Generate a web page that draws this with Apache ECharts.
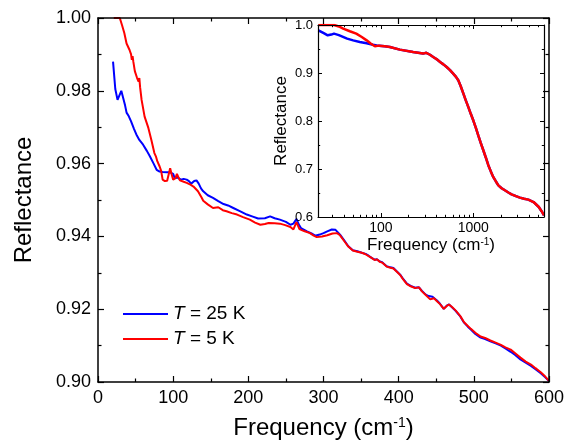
<!DOCTYPE html>
<html><head><meta charset="utf-8">
<script src="https://cdn.jsdelivr.net/npm/echarts@6/dist/echarts.min.js"></script>
<style>html,body{margin:0;padding:0;background:#fff}#c{width:585px;height:445px}</style>
</head><body><div id="c"></div>
<script>
// ---------- Main panel data (frequency in cm^-1, reflectance) ----------
var seriesNames = ['T = 25 K', 'T = 5 K'];
var freq25 = [20,23,26,28,31,33,36,38,41,44,48,51,55,60,65,69,74,78,82,86,92,96,100,102,106,110,114,118,121,124,128,131,134,137,140,146,153,160,167,173,180,188,198,205,213,222,229,235,242,250,256,260,264,267,270,278,284,289,295,300,305,311,316,322,328,333,339,345,351,356,360,364,368,371,375,378,384,389,393,398,402,406,411,416,422,427,431,436,440,445,451,455,460,464,467,471,476,482,487,492,496,502,509,515,522,529,536,542,549,555,562,569,576,582,589,595,600];
var refl25 = [0.988,0.9805,0.9775,0.978,0.980,0.9795,0.976,0.974,0.973,0.9716,0.9695,0.968,0.9665,0.9652,0.9635,0.962,0.960,0.9583,0.9578,0.9577,0.9576,0.9576,0.9572,0.956,0.9562,0.9556,0.9558,0.9556,0.9552,0.9545,0.9552,0.9554,0.9545,0.9532,0.9524,0.9513,0.9506,0.9497,0.9489,0.9485,0.9478,0.947,0.946,0.9455,0.9449,0.945,0.9455,0.945,0.9446,0.944,0.9432,0.9435,0.9448,0.9433,0.9423,0.9414,0.9408,0.9402,0.9405,0.9409,0.9414,0.9419,0.9418,0.9405,0.9388,0.9373,0.9362,0.9359,0.9355,0.9352,0.9347,0.9341,0.9336,0.9337,0.9331,0.9329,0.9318,0.9315,0.9313,0.9303,0.9295,0.9283,0.927,0.9264,0.9259,0.926,0.925,0.924,0.9236,0.9234,0.9224,0.9215,0.9201,0.921,0.9213,0.9205,0.9195,0.918,0.9163,0.9152,0.9144,0.9132,0.9122,0.9118,0.9112,0.9106,0.91,0.9092,0.9083,0.9074,0.9062,0.9053,0.9044,0.9035,0.9024,0.9013,0.9003];
var freq5 = [21,25,29,32,35,38,42,44,45,46,47,49,52,54,55,56,58,62,67,71,75,77,79,82,84,86,89,92,94,96,98,100,103,105,107,109,114,118,123,127,133,138,140,146,153,160,166,171,178,185,193,202,209,216,222,227,235,242,249,256,260,264,268,275,282,287,291,298,305,312,318,322,328,333,339,345,351,356,360,364,368,371,375,378,384,389,393,398,402,406,411,416,422,427,431,436,442,447,451,455,460,464,467,471,476,482,487,492,496,502,509,515,522,529,536,542,549,555,562,569,576,582,589,595,600];
var refl5 = [1.0,1.0,1.0,0.998,0.9959,0.993,0.9912,0.990,0.9885,0.9895,0.988,0.9854,0.9835,0.9825,0.9835,0.981,0.9775,0.9729,0.9698,0.9665,0.9629,0.962,0.9606,0.9592,0.958,0.9556,0.9552,0.9553,0.957,0.9587,0.957,0.9556,0.956,0.9572,0.9562,0.9554,0.955,0.9547,0.9542,0.9537,0.9524,0.9506,0.9498,0.9488,0.9478,0.948,0.9472,0.9469,0.9464,0.946,0.9453,0.9446,0.9438,0.9432,0.9434,0.9437,0.9436,0.9435,0.9431,0.9426,0.9419,0.9439,0.942,0.9414,0.9409,0.9402,0.9398,0.94,0.9403,0.9408,0.9409,0.9403,0.9386,0.9372,0.9361,0.9358,0.9355,0.9351,0.9346,0.9341,0.9335,0.9337,0.933,0.9328,0.9317,0.9314,0.9312,0.9302,0.9294,0.9282,0.9269,0.9263,0.9258,0.926,0.9249,0.9239,0.9227,0.923,0.9222,0.9214,0.9201,0.9209,0.9213,0.9206,0.9196,0.9181,0.9164,0.9154,0.9146,0.9135,0.9125,0.9121,0.9114,0.9108,0.9102,0.9095,0.9089,0.9079,0.9067,0.9056,0.9048,0.9038,0.9027,0.9015,0.9003];

// ---------- Inset data (log frequency axis) ----------
var insetFreq25 = [21,24,26.5,29,31,35,43,50,59,70,82,90,110,125,160,223,286,310,340,368,400,437,475,515,560,606,650,688,730,782,830,885,940,1000,1065,1133,1205,1285,1370,1456,1550,1650,1760,1870,2030,2200,2400,2600,2900,3200,3550,3950,4500,5130,5500,5840];
var insetRefl25 = [0.989,0.983,0.9785,0.980,0.982,0.979,0.9717,0.968,0.9646,0.962,0.959,0.9575,0.9556,0.9542,0.9487,0.9437,0.9404,0.942,0.938,0.9333,0.929,0.923,0.918,0.9125,0.906,0.8987,0.892,0.8848,0.873,0.857,0.843,0.829,0.815,0.8015,0.786,0.770,0.7545,0.739,0.7235,0.708,0.695,0.683,0.674,0.666,0.660,0.6556,0.651,0.6473,0.6435,0.6404,0.638,0.6362,0.6312,0.6208,0.612,0.6035];
var insetFreq5 = [21,26,31,35,39,46,54,62,70,78,86,95,110,125,160,223,286,310,340,368,400,437,475,515,560,606,650,688,730,782,830,885,940,1000,1065,1133,1205,1285,1370,1456,1550,1650,1760,1870,2030,2200,2400,2600,2900,3200,3550,3950,4500,5130,5500,5840];
var insetRefl5 = [1.0,1.0,1.0,0.997,0.9924,0.987,0.982,0.975,0.968,0.961,0.9556,0.957,0.9556,0.9542,0.9487,0.9437,0.9404,0.942,0.938,0.9333,0.929,0.923,0.918,0.9125,0.906,0.8987,0.892,0.8848,0.873,0.857,0.843,0.829,0.815,0.8015,0.786,0.770,0.7545,0.739,0.7235,0.708,0.695,0.683,0.674,0.666,0.660,0.6556,0.651,0.6473,0.6435,0.6404,0.638,0.6362,0.6312,0.6208,0.612,0.6035];

// ---------- Tick definitions ----------
var insetMajorTicks = [100, 1000];
var insetMinorTicks = [30,40,50,60,70,80,90,200,300,400,500,600,700,800,900,2000,3000,4000,5000];

function pairs(xs, ys){ return xs.map(function(x,i){ return [x, ys[i]]; }); }

var FONT = 'Liberation Sans, Arial, sans-serif';
var BLUE = '#0000ff', RED = '#ff0000';

var mainX = {min:0, max:600, interval:100};
var mainY = {min:0.90, max:1.00, interval:0.02};
var insetX = {min:20.8, max:5840};
var insetY = {min:0.6, max:1.0, interval:0.1};

function mainXAxis(pos, labels){
  return {type:'value', gridIndex:0, position:pos, min:mainX.min, max:mainX.max, interval:mainX.interval, z:10,
    axisLine:{show:true, onZero:false, lineStyle:{color:'#000', width:1.5}},
    axisTick:{show:true, inside:true, length:6, lineStyle:{color:'#000', width:1.2}},
    minorTick:{show:true, splitNumber:2, length:3.5, lineStyle:{color:'#000', width:1.2}},
    splitLine:{show:false},
    axisLabel:{show:labels, color:'#000', fontSize:18, fontFamily:FONT, margin:7},
    name: labels ? 'Frequency (cm{sup|-1})' : '',
    nameLocation:'middle', nameGap:34,
    nameTextStyle:{color:'#000', fontSize:24, fontFamily:FONT,
      rich:{sup:{fontSize:14, fontFamily:FONT, color:'#000', verticalAlign:'top', padding:[0,0,10,0]}}}
  };
}
function mainYAxis(pos, labels){
  return {type:'value', gridIndex:0, position:pos, min:mainY.min, max:mainY.max, interval:mainY.interval, z:10,
    axisLine:{show:true, onZero:false, lineStyle:{color:'#000', width:1.5}},
    axisTick:{show:true, inside:true, length:6, lineStyle:{color:'#000', width:1.2}},
    minorTick:{show:true, splitNumber:2, length:3.5, lineStyle:{color:'#000', width:1.2}},
    splitLine:{show:false},
    axisLabel:{show:labels, color:'#000', fontSize:18, fontFamily:FONT, margin:7,
      formatter:function(v){ return v.toFixed(2); }},
    name: labels ? 'Reflectance' : '',
    nameLocation:'middle', nameGap:62,
    nameTextStyle:{color:'#000', fontSize:24, fontFamily:FONT}
  };
}
// Inset x axes: grid 1 carries the frame, major ticks and labels; grid 2 (same rect) carries minor ticks.
function insetXAxis(gridIdx, pos, ticks, len, labels, line){
  return {type:'log', logBase:10, gridIndex:gridIdx, position:pos, min:insetX.min, max:insetX.max, z:10,
    axisLine:{show:line, onZero:false, lineStyle:{color:'#000', width:1.2}},
    axisTick:{show:true, inside:true, length:len, customValues:ticks, lineStyle:{color:'#000', width:1}},
    minorTick:{show:false},
    splitLine:{show:false},
    axisLabel:{show:labels, customValues:insetMajorTicks, color:'#000', fontSize:14, fontFamily:FONT, margin:4,
      formatter:function(v){ return String(Math.round(v)); }},
    name: labels ? 'Frequency (cm{sup|-1})' : '',
    nameLocation:'middle', nameGap:20,
    nameTextStyle:{color:'#000', fontSize:17, fontFamily:FONT,
      rich:{sup:{fontSize:10, fontFamily:FONT, color:'#000', verticalAlign:'top', padding:[0,0,7,0]}}}
  };
}
function insetYAxis(pos, labels){
  return {type:'value', gridIndex:1, position:pos, min:insetY.min, max:insetY.max, interval:insetY.interval, z:10,
    axisLine:{show:true, onZero:false, lineStyle:{color:'#000', width:1.2}},
    axisTick:{show:true, inside:true, length:4, lineStyle:{color:'#000', width:1}},
    minorTick:{show:true, splitNumber:2, length:2.2, lineStyle:{color:'#000', width:1}},
    splitLine:{show:false},
    axisLabel:{show:labels, color:'#000', fontSize:13, fontFamily:FONT, margin:5,
      formatter:function(v){ return v.toFixed(1); }},
    name: labels ? 'Reflectance' : '',
    nameLocation:'middle', nameGap:28,
    nameTextStyle:{color:'#000', fontSize:17, fontFamily:FONT}
  };
}

var chart = echarts.init(document.getElementById('c'), null, {renderer:'canvas'});
chart.setOption({
  backgroundColor:'#fff',
  animation:false,
  grid:[
    {left:98, top:18, width:451, height:364.7},
    {left:318, top:25, width:226, height:192, show:false},
    {left:318, top:25, width:226, height:192, show:false}
  ],
  xAxis:[
    mainXAxis('bottom', true),   // 0
    mainXAxis('top', false),     // 1
    insetXAxis(1, 'bottom', insetMajorTicks, 4, true, true),   // 2
    insetXAxis(1, 'top', insetMajorTicks, 4, false, true),     // 3
    insetXAxis(2, 'bottom', insetMinorTicks, 2.2, false, false), // 4
    insetXAxis(2, 'top', insetMinorTicks, 2.2, false, false)     // 5
  ],
  yAxis:[
    mainYAxis('left', true),   // 0
    mainYAxis('right', false), // 1
    insetYAxis('left', true),  // 2
    insetYAxis('right', false), // 3
    {type:'value', gridIndex:2, show:false, min:insetY.min, max:insetY.max} // 4
  ],
  legend:{
    orient:'vertical', left:123, top:304, padding:0, itemGap:5,
    itemWidth:45, itemHeight:2, icon:'rect',
    data:seriesNames,
    formatter:function(n){ return '{i|T}' + n.slice(1); },
    textStyle:{color:'#000', fontSize:19, fontFamily:FONT, lineHeight:20,
      rich:{i:{fontStyle:'italic', fontSize:19, fontFamily:FONT, color:'#000', lineHeight:20}}}
  },
  series:[
    {name:seriesNames[0], type:'line', xAxisIndex:0, yAxisIndex:0, data:pairs(freq25, refl25),
      showSymbol:false, lineStyle:{color:BLUE, width:2}, itemStyle:{color:BLUE}, clip:true, z:2},
    {name:seriesNames[1], type:'line', xAxisIndex:0, yAxisIndex:0, data:pairs(freq5, refl5),
      showSymbol:false, lineStyle:{color:RED, width:2}, itemStyle:{color:RED}, clip:true, z:3},
    {name:seriesNames[0]+' inset', type:'line', xAxisIndex:2, yAxisIndex:2, data:pairs(insetFreq25, insetRefl25),
      showSymbol:false, lineStyle:{color:BLUE, width:2.5}, itemStyle:{color:BLUE}, clip:true, z:6},
    {name:seriesNames[1]+' inset', type:'line', xAxisIndex:2, yAxisIndex:2, data:pairs(insetFreq5, insetRefl5),
      showSymbol:false, lineStyle:{color:RED, width:2.5}, itemStyle:{color:RED}, clip:true, z:7}
  ]
});
</script>
</body></html>
